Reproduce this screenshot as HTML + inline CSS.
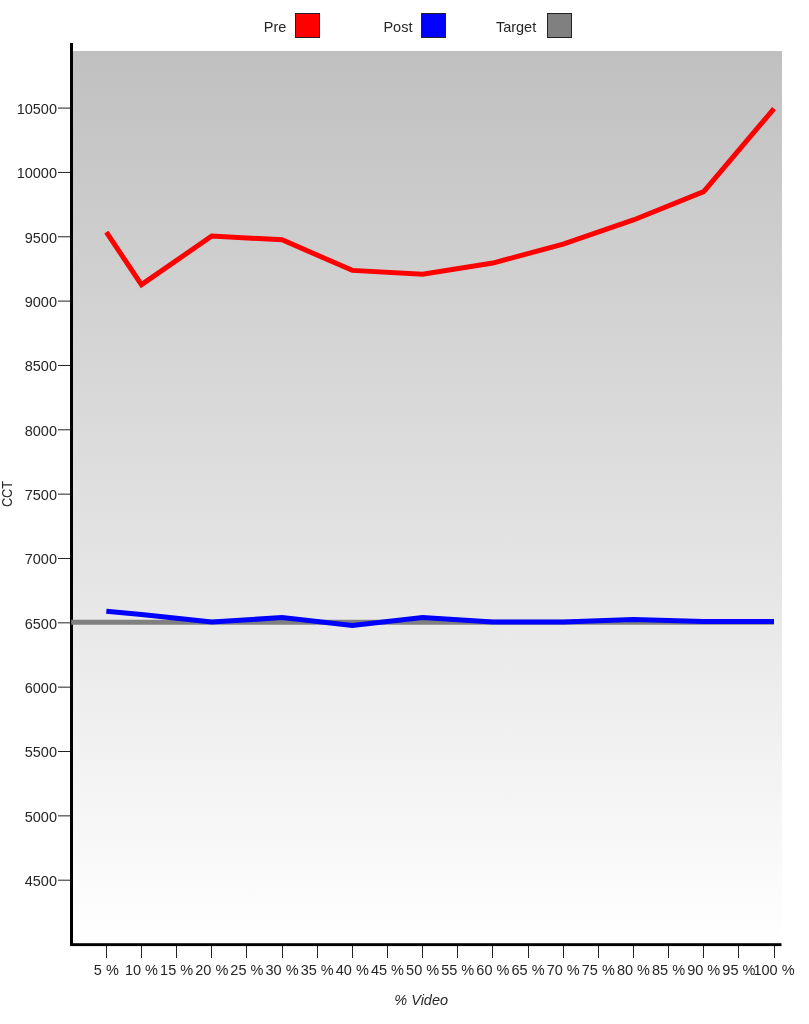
<!DOCTYPE html>
<html><head><meta charset="utf-8"><title>CCT chart</title>
<style>
html,body{margin:0;padding:0;background:#fff;width:809px;height:1024px;overflow:hidden}
svg{display:block;will-change:transform}
text{font-family:'Liberation Sans','DejaVu Sans',sans-serif;font-size:14.5px;fill:#262626}
</style></head><body>
<svg width="809" height="1024" viewBox="0 0 809 1024">
<defs>
<linearGradient id="bg" x1="0" y1="0" x2="0" y2="1">
<stop offset="0" stop-color="#c0c0c0"/>
<stop offset="1" stop-color="#ffffff"/>
</linearGradient>
</defs>

<rect x="73" y="51" width="709" height="893" fill="url(#bg)"/>
<text x="263.8" y="31.9">Pre</text>
<rect x="295.5" y="13.5" width="24" height="24" fill="#ff0000" stroke="#222" stroke-width="1"/>
<text x="383.4" y="31.9">Post</text>
<rect x="421.5" y="13.5" width="24" height="24" fill="#0000ff" stroke="#222" stroke-width="1"/>
<text x="495.9" y="31.9">Target</text>
<rect x="547.5" y="13.5" width="24" height="24" fill="#808080" stroke="#222" stroke-width="1"/>
<line x1="58" y1="108.10" x2="70" y2="108.10" stroke="#222" stroke-width="1"/>
<text x="57" y="113.90" text-anchor="end">10500</text>
<line x1="58" y1="172.44" x2="70" y2="172.44" stroke="#222" stroke-width="1"/>
<text x="57" y="178.24" text-anchor="end">10000</text>
<line x1="58" y1="236.78" x2="70" y2="236.78" stroke="#222" stroke-width="1"/>
<text x="57" y="242.58" text-anchor="end">9500</text>
<line x1="58" y1="301.12" x2="70" y2="301.12" stroke="#222" stroke-width="1"/>
<text x="57" y="306.92" text-anchor="end">9000</text>
<line x1="58" y1="365.47" x2="70" y2="365.47" stroke="#222" stroke-width="1"/>
<text x="57" y="371.27" text-anchor="end">8500</text>
<line x1="58" y1="429.81" x2="70" y2="429.81" stroke="#222" stroke-width="1"/>
<text x="57" y="435.61" text-anchor="end">8000</text>
<line x1="58" y1="494.15" x2="70" y2="494.15" stroke="#222" stroke-width="1"/>
<text x="57" y="499.95" text-anchor="end">7500</text>
<line x1="58" y1="558.49" x2="70" y2="558.49" stroke="#222" stroke-width="1"/>
<text x="57" y="564.29" text-anchor="end">7000</text>
<line x1="58" y1="622.83" x2="70" y2="622.83" stroke="#222" stroke-width="1"/>
<text x="57" y="628.63" text-anchor="end">6500</text>
<line x1="58" y1="687.17" x2="70" y2="687.17" stroke="#222" stroke-width="1"/>
<text x="57" y="692.97" text-anchor="end">6000</text>
<line x1="58" y1="751.51" x2="70" y2="751.51" stroke="#222" stroke-width="1"/>
<text x="57" y="757.31" text-anchor="end">5500</text>
<line x1="58" y1="815.86" x2="70" y2="815.86" stroke="#222" stroke-width="1"/>
<text x="57" y="821.66" text-anchor="end">5000</text>
<line x1="58" y1="880.20" x2="70" y2="880.20" stroke="#222" stroke-width="1"/>
<text x="57" y="886.00" text-anchor="end">4500</text>
<line x1="106.5" y1="946" x2="106.5" y2="958" stroke="#222" stroke-width="1"/>
<text x="106.34" y="975.2" text-anchor="middle">5 %</text>
<line x1="141.5" y1="946" x2="141.5" y2="958" stroke="#222" stroke-width="1"/>
<text x="141.48" y="975.2" text-anchor="middle">10 %</text>
<line x1="176.5" y1="946" x2="176.5" y2="958" stroke="#222" stroke-width="1"/>
<text x="176.62" y="975.2" text-anchor="middle">15 %</text>
<line x1="211.5" y1="946" x2="211.5" y2="958" stroke="#222" stroke-width="1"/>
<text x="211.76" y="975.2" text-anchor="middle">20 %</text>
<line x1="246.5" y1="946" x2="246.5" y2="958" stroke="#222" stroke-width="1"/>
<text x="246.90" y="975.2" text-anchor="middle">25 %</text>
<line x1="282.5" y1="946" x2="282.5" y2="958" stroke="#222" stroke-width="1"/>
<text x="282.04" y="975.2" text-anchor="middle">30 %</text>
<line x1="317.5" y1="946" x2="317.5" y2="958" stroke="#222" stroke-width="1"/>
<text x="317.18" y="975.2" text-anchor="middle">35 %</text>
<line x1="352.5" y1="946" x2="352.5" y2="958" stroke="#222" stroke-width="1"/>
<text x="352.32" y="975.2" text-anchor="middle">40 %</text>
<line x1="387.5" y1="946" x2="387.5" y2="958" stroke="#222" stroke-width="1"/>
<text x="387.46" y="975.2" text-anchor="middle">45 %</text>
<line x1="422.5" y1="946" x2="422.5" y2="958" stroke="#222" stroke-width="1"/>
<text x="422.60" y="975.2" text-anchor="middle">50 %</text>
<line x1="457.5" y1="946" x2="457.5" y2="958" stroke="#222" stroke-width="1"/>
<text x="457.74" y="975.2" text-anchor="middle">55 %</text>
<line x1="492.5" y1="946" x2="492.5" y2="958" stroke="#222" stroke-width="1"/>
<text x="492.88" y="975.2" text-anchor="middle">60 %</text>
<line x1="528.5" y1="946" x2="528.5" y2="958" stroke="#222" stroke-width="1"/>
<text x="528.02" y="975.2" text-anchor="middle">65 %</text>
<line x1="563.5" y1="946" x2="563.5" y2="958" stroke="#222" stroke-width="1"/>
<text x="563.16" y="975.2" text-anchor="middle">70 %</text>
<line x1="598.5" y1="946" x2="598.5" y2="958" stroke="#222" stroke-width="1"/>
<text x="598.30" y="975.2" text-anchor="middle">75 %</text>
<line x1="633.5" y1="946" x2="633.5" y2="958" stroke="#222" stroke-width="1"/>
<text x="633.44" y="975.2" text-anchor="middle">80 %</text>
<line x1="668.5" y1="946" x2="668.5" y2="958" stroke="#222" stroke-width="1"/>
<text x="668.58" y="975.2" text-anchor="middle">85 %</text>
<line x1="703.5" y1="946" x2="703.5" y2="958" stroke="#222" stroke-width="1"/>
<text x="703.72" y="975.2" text-anchor="middle">90 %</text>
<line x1="738.5" y1="946" x2="738.5" y2="958" stroke="#222" stroke-width="1"/>
<text x="738.86" y="975.2" text-anchor="middle">95 %</text>
<line x1="774.5" y1="946" x2="774.5" y2="958" stroke="#222" stroke-width="1"/>
<text x="774.00" y="975.2" text-anchor="middle">100 %</text>
<rect x="70" y="43" width="3" height="903" fill="#000"/>
<rect x="70" y="943.2" width="711.5" height="2.9" fill="#000"/>
<polyline points="71.20,622.35 774.00,622.35" fill="none" stroke="#808080" stroke-width="5"/>
<polyline points="106.34,611.15 141.48,614.50 211.76,622.09 282.04,617.58 352.32,625.56 422.60,617.58 492.88,622.09 563.16,622.09 633.44,619.51 703.72,621.45 774.00,621.45" fill="none" stroke="#0000ff" stroke-width="5" stroke-linejoin="miter"/>
<polyline points="106.34,232.18 141.48,284.68 211.76,236.04 282.04,239.77 352.32,270.40 422.60,274.13 492.88,263.06 563.16,244.15 633.44,219.95 703.72,191.64 774.00,108.64" fill="none" stroke="#ff0000" stroke-width="5" stroke-linejoin="miter"/>
<text x="421.2" y="1005.2" text-anchor="middle" font-style="italic">% Video</text>
<text transform="translate(12.4,494) rotate(-90)" x="-13.1" textLength="26.2" lengthAdjust="spacingAndGlyphs">CCT</text>
</svg></body></html>
